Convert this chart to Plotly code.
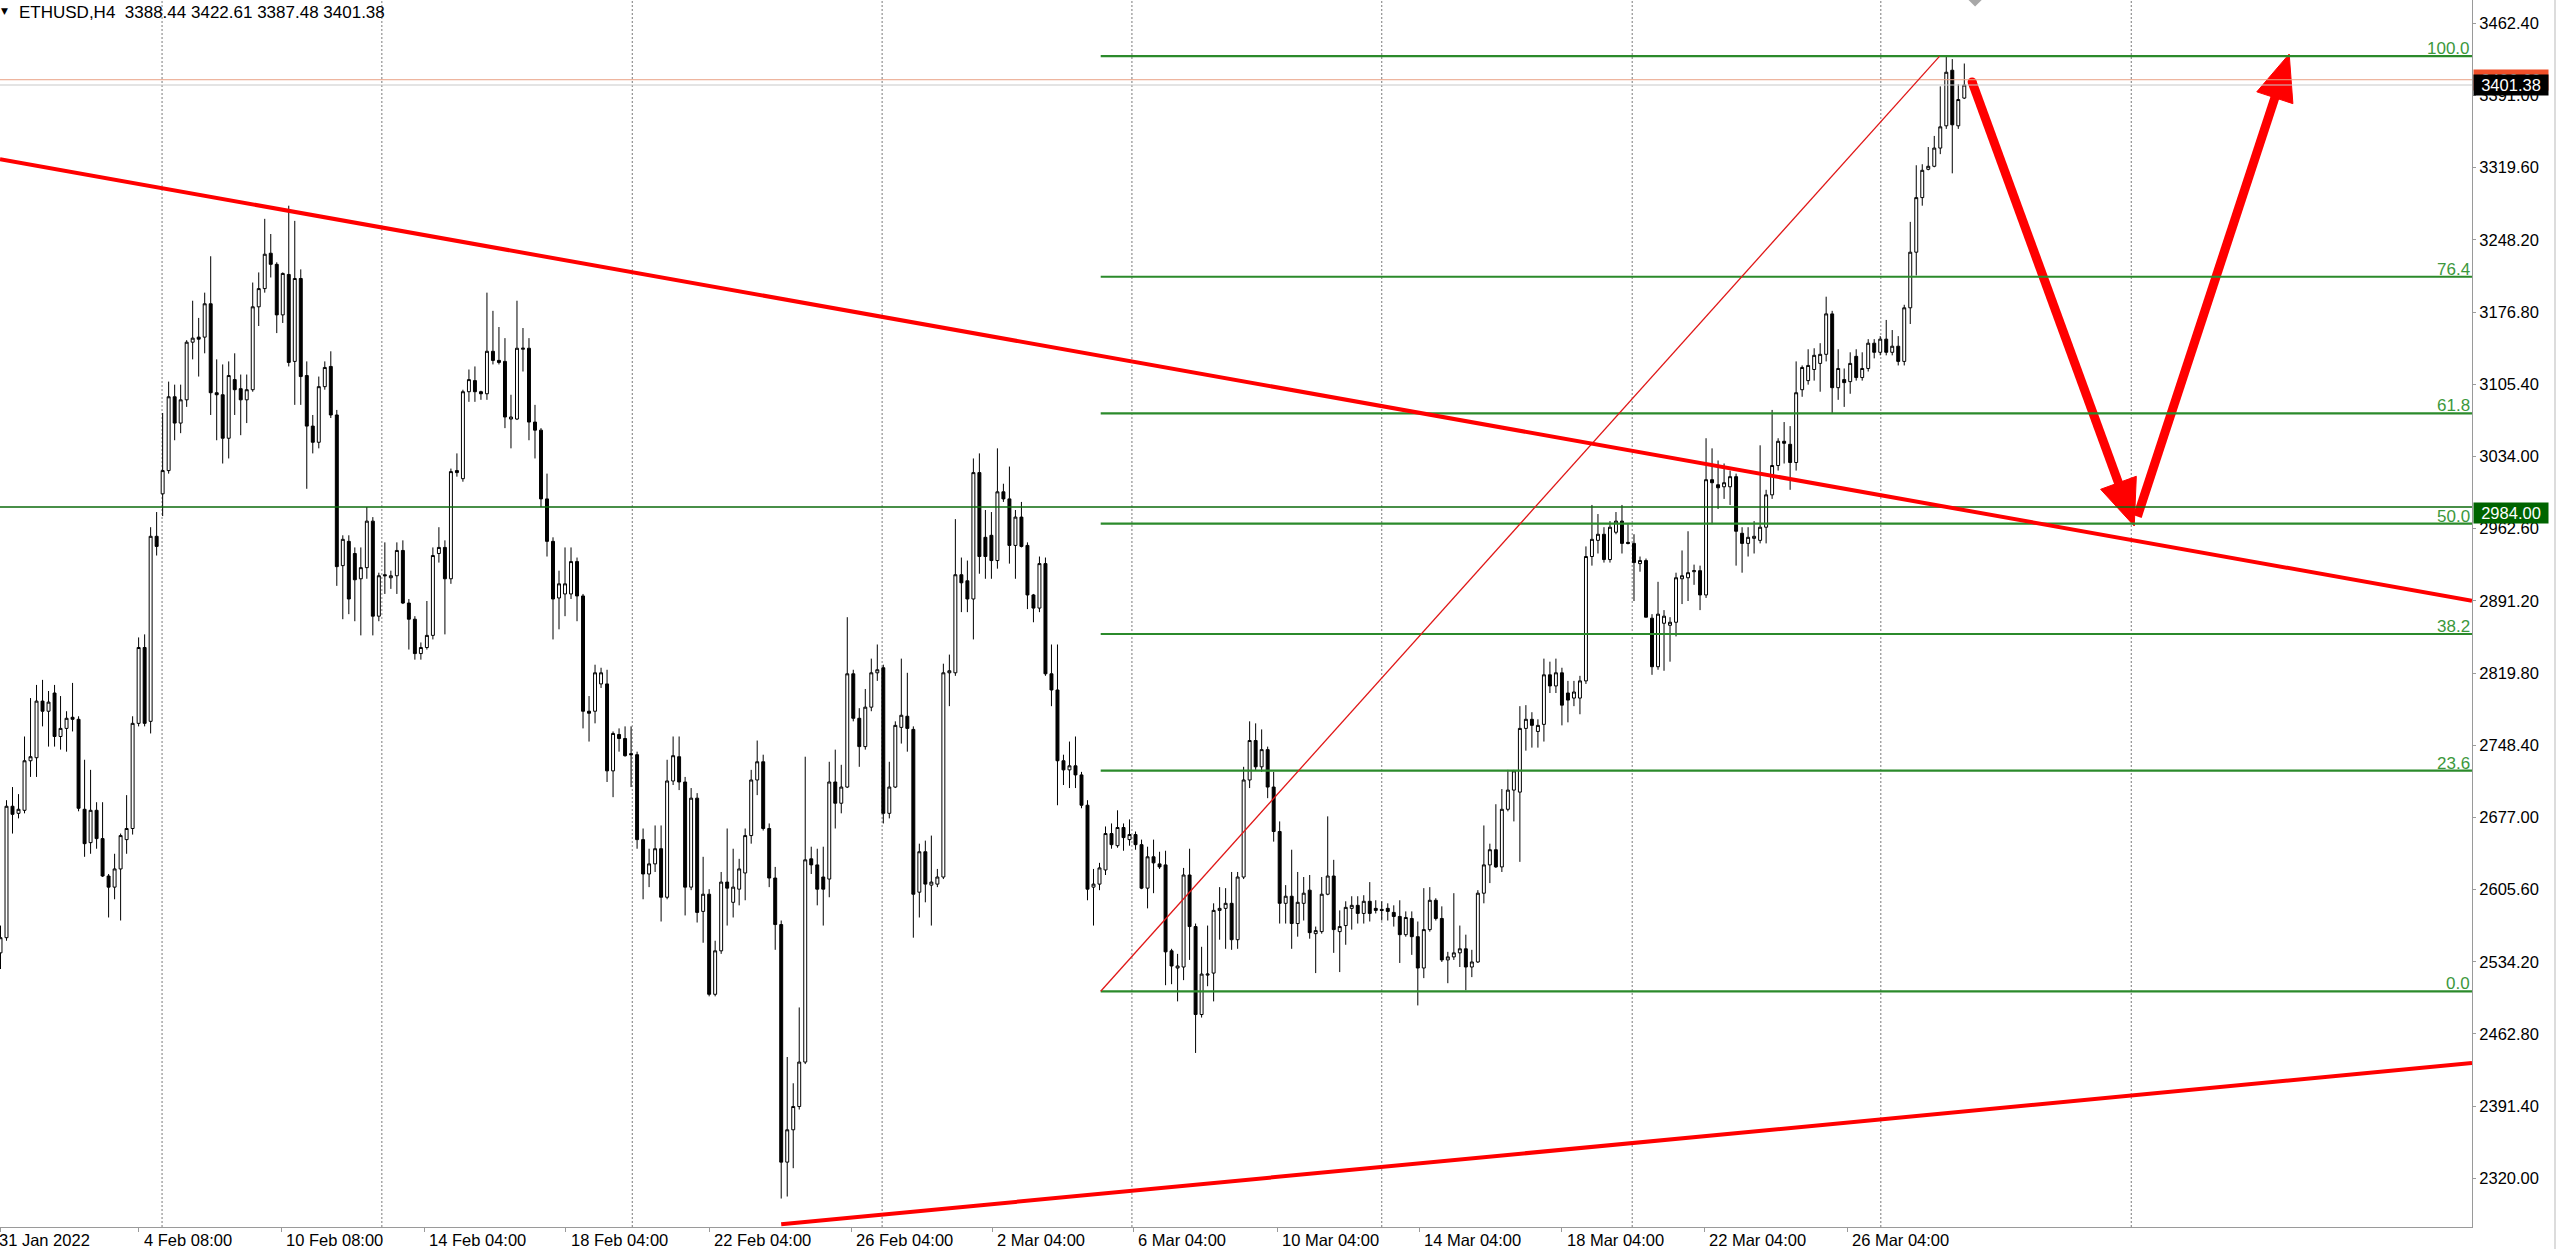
import plotly.graph_objects as go

# ---------------- data (ETHUSD H4 candles) ----------------
opens = [
    2543, 2558, 2688, 2681, 2684, 2733, 2736, 2792, 2782, 2800,
    2757, 2765, 2776, 2774, 2685, 2652, 2684, 2656, 2619, 2608,
    2626, 2655, 2666, 2770, 2845, 2772, 2955, 2997, 3020, 3093,
    3067, 3090, 3147, 3152, 3152, 3185, 3097, 3095, 3052, 3110,
    3101, 3090, 3100, 3182, 3200, 3235, 3224, 3174, 3214, 3128,
    3210, 3114, 3064, 3048, 3103, 3123, 3075, 2926, 2950, 2938,
    2913, 2924, 2970, 2876, 2917, 2914, 2916, 2941, 2889, 2873,
    2839, 2845, 2857, 2938, 2944, 2913, 3020, 3012, 3098, 3109,
    3098, 3096, 3138, 3129, 3128, 3071, 3071, 3140, 3141, 3068,
    3060, 2992, 2950, 2894, 2898, 2898, 2930, 2896, 2782, 2782,
    2809, 2809, 2723, 2759, 2755, 2740, 2739, 2655, 2621, 2631,
    2646, 2598, 2713, 2737, 2712, 2608, 2696, 2584, 2601, 2502,
    2545, 2613, 2593, 2606, 2622, 2659, 2714, 2732, 2666, 2617,
    2571, 2336, 2368, 2391, 2435, 2636, 2630, 2618, 2616, 2712,
    2691, 2707, 2819, 2775, 2747, 2786, 2820, 2825, 2681, 2707,
    2766, 2777, 2764, 2603, 2643, 2610, 2611, 2618, 2820, 2820,
    2917, 2911, 2893, 3018, 2954, 2956, 2931, 2999, 2992, 2946,
    2974, 2946, 2897, 2884, 2928, 2819, 2803, 2733, 2724, 2728,
    2719, 2689, 2608, 2611, 2625, 2661, 2649, 2667, 2655, 2660,
    2650, 2607, 2638, 2631, 2630, 2545, 2528, 2529, 2620, 2569,
    2482, 2521, 2523, 2585, 2587, 2592, 2556, 2618, 2714, 2753,
    2727, 2744, 2707, 2663, 2592, 2599, 2572, 2592, 2605, 2562,
    2564, 2601, 2619, 2564, 2570, 2587, 2590, 2582, 2594, 2587,
    2586, 2587, 2583, 2579, 2561, 2577, 2559, 2528, 2566, 2595,
    2577, 2536, 2539, 2543, 2547, 2529, 2534, 2602, 2630, 2645,
    2628, 2685, 2704, 2702, 2765, 2774, 2762, 2769, 2818, 2807,
    2820, 2800, 2795, 2795, 2812, 2935, 2951, 2957, 2932, 2959,
    2970, 2949, 2948, 2928, 2931, 2874, 2826, 2869, 2867, 2870,
    2913, 2914, 2920, 2921, 2897, 3011, 3006, 3004, 3004, 3014,
    2958, 2948, 2953, 2951, 2964, 2996, 3025, 3049, 3046, 3028,
    3100, 3109, 3120, 3126, 3135, 3175, 3102, 3110, 3108, 3133,
    3112, 3121, 3146, 3137, 3150, 3137, 3143, 3128, 3181, 3236,
    3290, 3318, 3321, 3339, 3361, 3416, 3361, 3388.44,
]
highs = [
    2570, 2694, 2707, 2700, 2757, 2795, 2808, 2813, 2802, 2808,
    2797, 2782, 2810, 2777, 2734, 2724, 2692, 2692, 2621, 2641,
    2661, 2699, 2777, 2855, 2858, 2964, 2979, 3077, 3108, 3105,
    3105, 3149, 3188, 3171, 3196, 3232, 3130, 3125, 3128, 3136,
    3115, 3115, 3206, 3216, 3269, 3254, 3226, 3216, 3282, 3267,
    3219, 3128, 3075, 3113, 3128, 3138, 3080, 2956, 2956, 2944,
    2944, 2984, 2974, 2919, 2949, 2921, 2949, 2951, 2893, 2876,
    2850, 2891, 2944, 2964, 2951, 3022, 3037, 3100, 3120, 3123,
    3099, 3196, 3178, 3162, 3151, 3095, 3188, 3161, 3151, 3085,
    3062, 3017, 2954, 2921, 2944, 2944, 2934, 2898, 2797, 2828,
    2825, 2823, 2762, 2765, 2767, 2767, 2742, 2666, 2646, 2669,
    2669, 2734, 2757, 2757, 2717, 2706, 2701, 2638, 2606, 2555,
    2623, 2666, 2646, 2636, 2666, 2724, 2753, 2739, 2671, 2628,
    2575, 2440, 2414, 2489, 2737, 2648, 2646, 2648, 2732, 2744,
    2729, 2875, 2823, 2785, 2804, 2834, 2848, 2828, 2732, 2772,
    2834, 2820, 2767, 2651, 2654, 2659, 2626, 2829, 2838, 2972,
    2934, 2931, 3032, 3037, 2981, 2979, 3042, 3007, 3024, 2981,
    2989, 2949, 2898, 2935, 2934, 2848, 2848, 2739, 2752, 2757,
    2722, 2694, 2626, 2632, 2668, 2671, 2684, 2671, 2675, 2663,
    2655, 2648, 2655, 2643, 2644, 2547, 2542, 2627, 2646, 2572,
    2549, 2570, 2592, 2608, 2607, 2623, 2623, 2727, 2772, 2770,
    2764, 2747, 2722, 2673, 2610, 2645, 2623, 2618, 2620, 2569,
    2618, 2678, 2635, 2585, 2594, 2599, 2599, 2600, 2613, 2595,
    2594, 2592, 2590, 2595, 2584, 2584, 2574, 2607, 2608, 2597,
    2589, 2544, 2602, 2570, 2561, 2546, 2605, 2669, 2651, 2690,
    2705, 2724, 2724, 2787, 2788, 2781, 2774, 2834, 2831, 2834,
    2825, 2812, 2812, 2817, 2945, 2986, 2977, 2964, 2970, 2979,
    2986, 2967, 2957, 2935, 2933, 2878, 2910, 2882, 2875, 2919,
    2941, 2960, 2927, 2926, 3052, 3042, 3030, 3027, 3020, 3017,
    2964, 2964, 2970, 3045, 3001, 3080, 3052, 3068, 3064, 3128,
    3124, 3140, 3141, 3146, 3192, 3178, 3140, 3121, 3137, 3140,
    3137, 3150, 3150, 3153, 3169, 3159, 3153, 3184, 3266, 3322,
    3323, 3340, 3351, 3400, 3430, 3427, 3402, 3422.61,
]
lows = [
    2527, 2555, 2661, 2676, 2681, 2717, 2717, 2767, 2747, 2747,
    2744, 2742, 2762, 2683, 2638, 2641, 2646, 2618, 2578, 2596,
    2575, 2641, 2660, 2767, 2767, 2760, 2936, 2975, 3017, 3050,
    3057, 3083, 3130, 3113, 3136, 3075, 3050, 3027, 3032, 3075,
    3055, 3067, 3098, 3163, 3196, 3211, 3156, 3166, 3123, 3085,
    3085, 3002, 3037, 3042, 3100, 3072, 2906, 2873, 2878, 2871,
    2857, 2913, 2857, 2871, 2898, 2903, 2898, 2888, 2843, 2833,
    2833, 2843, 2853, 2929, 2858, 2908, 3014, 3009, 3088, 3088,
    3090, 3090, 3125, 3125, 3062, 3042, 3070, 3118, 3050, 3032,
    2984, 2935, 2853, 2863, 2876, 2893, 2871, 2765, 2752, 2770,
    2805, 2712, 2697, 2742, 2737, 2707, 2646, 2596, 2608, 2623,
    2574, 2596, 2709, 2704, 2580, 2605, 2573, 2553, 2500, 2500,
    2542, 2570, 2578, 2590, 2595, 2651, 2699, 2664, 2608, 2546,
    2300, 2302, 2330, 2388, 2433, 2621, 2590, 2570, 2598, 2666,
    2681, 2706, 2772, 2727, 2744, 2782, 2812, 2671, 2676, 2706,
    2750, 2742, 2558, 2578, 2593, 2570, 2608, 2616, 2787, 2817,
    2880, 2880, 2853, 2918, 2913, 2913, 2923, 2989, 2928, 2913,
    2944, 2883, 2870, 2880, 2817, 2787, 2689, 2709, 2706, 2706,
    2686, 2595, 2570, 2605, 2620, 2646, 2647, 2644, 2649, 2645,
    2606, 2587, 2602, 2626, 2511, 2512, 2495, 2516, 2536, 2444,
    2479, 2510, 2495, 2556, 2547, 2546, 2547, 2616, 2706, 2724,
    2722, 2696, 2653, 2572, 2572, 2547, 2559, 2575, 2557, 2523,
    2562, 2600, 2543, 2524, 2551, 2566, 2572, 2572, 2574, 2582,
    2575, 2575, 2569, 2533, 2559, 2541, 2491, 2518, 2564, 2575,
    2534, 2513, 2536, 2529, 2506, 2519, 2533, 2592, 2612, 2627,
    2623, 2683, 2673, 2633, 2743, 2746, 2746, 2752, 2800, 2800,
    2768, 2771, 2787, 2779, 2809, 2926, 2938, 2929, 2929, 2957,
    2938, 2947, 2891, 2920, 2875, 2818, 2823, 2822, 2831, 2856,
    2888, 2891, 2907, 2882, 2894, 2967, 2982, 2992, 2986, 2926,
    2919, 2935, 2938, 2948, 2948, 2992, 3020, 3027, 3001, 3020,
    3093, 3105, 3109, 3098, 3128, 3077, 3090, 3083, 3096, 3109,
    3109, 3118, 3131, 3134, 3134, 3134, 3124, 3124, 3165, 3213,
    3282, 3317, 3320, 3333, 3358, 3314, 3358, 3387.48,
]
closes = [
    2558, 2688, 2680, 2685, 2733, 2737, 2792, 2782, 2791, 2757,
    2765, 2775, 2774, 2686, 2651, 2684, 2656, 2619, 2608, 2626,
    2659, 2666, 2770, 2845, 2770, 2955, 2945, 3020, 3093, 3067,
    3090, 3147, 3151, 3150, 3185, 3097, 3095, 3052, 3114, 3100,
    3090, 3100, 3182, 3200, 3234, 3224, 3174, 3215, 3127, 3210,
    3113, 3064, 3048, 3103, 3122, 3075, 2925, 2952, 2893, 2912,
    2924, 2970, 2876, 2916, 2916, 2916, 2941, 2889, 2873, 2839,
    2845, 2857, 2936, 2944, 2913, 3019, 3018, 3098, 3110, 3098,
    3096, 3138, 3129, 3127, 3073, 3073, 3141, 3141, 3068, 3060,
    2992, 2950, 2893, 2908, 2908, 2930, 2896, 2782, 2780, 2820,
    2820, 2723, 2760, 2755, 2738, 2739, 2655, 2621, 2631, 2646,
    2598, 2713, 2738, 2712, 2608, 2696, 2583, 2601, 2502, 2545,
    2613, 2607, 2608, 2626, 2659, 2714, 2732, 2666, 2617, 2571,
    2336, 2368, 2391, 2435, 2635, 2630, 2606, 2606, 2712, 2691,
    2707, 2819, 2775, 2747, 2786, 2820, 2823, 2681, 2707, 2768,
    2778, 2765, 2601, 2643, 2611, 2613, 2618, 2820, 2822, 2917,
    2909, 2893, 3018, 2935, 2935, 2931, 2999, 2992, 2946, 2974,
    2945, 2897, 2884, 2928, 2819, 2803, 2733, 2724, 2728, 2719,
    2689, 2606, 2611, 2627, 2661, 2650, 2667, 2657, 2660, 2650,
    2607, 2638, 2632, 2628, 2544, 2530, 2530, 2620, 2569, 2482,
    2522, 2522, 2585, 2587, 2592, 2556, 2618, 2714, 2753, 2727,
    2744, 2707, 2663, 2592, 2599, 2572, 2593, 2602, 2563, 2565,
    2601, 2619, 2566, 2569, 2588, 2590, 2582, 2594, 2582, 2585,
    2585, 2584, 2579, 2561, 2578, 2559, 2528, 2566, 2595, 2577,
    2536, 2539, 2543, 2547, 2529, 2534, 2602, 2630, 2645, 2628,
    2685, 2704, 2723, 2765, 2774, 2768, 2768, 2818, 2807, 2820,
    2788, 2793, 2801, 2812, 2935, 2952, 2957, 2932, 2964, 2970,
    2948, 2948, 2929, 2931, 2875, 2826, 2878, 2876, 2870, 2914,
    2916, 2919, 2921, 2897, 3011, 3008, 3003, 3008, 3014, 2960,
    2948, 2954, 2955, 2964, 2996, 3025, 3049, 3047, 3028, 3097,
    3122, 3124, 3134, 3135, 3175, 3102, 3121, 3107, 3126, 3112,
    3121, 3146, 3137, 3150, 3137, 3143, 3128, 3181, 3236, 3290,
    3317, 3321, 3339, 3360, 3414, 3362, 3387, 3401.38,
]
bars = list(range(len(opens)))

header_text = "ETHUSD,H4\u00a0\u00a03388.44 3422.61 3387.48 3401.38"
x_labels = ["31 Jan 2022", "4 Feb 08:00", "10 Feb 08:00", "14 Feb 04:00", "18 Feb 04:00",
            "22 Feb 04:00", "26 Feb 04:00", "2 Mar 04:00", "6 Mar 04:00", "10 Mar 04:00",
            "14 Mar 04:00", "18 Mar 04:00", "22 Mar 04:00", "26 Mar 04:00"]
x_label_bars = [0.0, 23.06, 46.71, 70.52, 94.16, 117.98, 141.62, 165.1, 188.58,
                212.56, 236.2, 260.01, 283.66, 307.47]
grid_bars = [26.9, 63.5, 105.2, 146.8, 188.4, 230.0, 271.7, 313.1, 354.8]
y_ticks = [3462.40, 3391.00, 3319.60, 3248.20, 3176.80, 3105.40, 3034.00, 2962.60, 2891.20,
           2819.80, 2748.40, 2677.00, 2605.60, 2534.20, 2462.80, 2391.40, 2320.00]

level_price = 2984.00
bid_price = 3401.38
ask_price = 3406.6

fib_bars = [183.2, 322.9]
fib_prices = [2505.0, 3430.0]
fib_ratios = [0.0, 23.6, 38.2, 50.0, 61.8, 76.4, 100.0]

trend_down_bars = [-0.083, 411.54]
trend_down_prices = [3327.9, 2891.2]
trend_up_bars = [130.0, 411.54]
trend_up_prices = [2274.6, 2434.1]

arrow_bars = [328.3, 355.3, 381.1]
arrow_prices = [3404.3, 2965.2, 3432.0]

marker_bar, marker_price = 328.8, 3490.5

# ---------------- geometry of the plot area ----------------
FIG_W, FIG_H = 2560, 1249
M_L, M_R, M_T, M_B = 0, 88, 0, 22
PW, PH = FIG_W - M_L - M_R, FIG_H - M_T - M_B
X0, X1 = -0.083, 411.54
Y0, Y1 = 2271.85, 3485.45


def to_px(b, p):
    return ((b - X0) / (X1 - X0) * PW, (Y1 - p) / (Y1 - Y0) * PH)


def to_data(x, y):
    return (X0 + x / PW * (X1 - X0), Y1 - y / PH * (Y1 - Y0))


def head(tail, tip, length=46.0, half=19.0):
    tx, ty = to_px(*tail)
    hx, hy = to_px(*tip)
    dx, dy = hx - tx, hy - ty
    d = (dx * dx + dy * dy) ** 0.5
    ux, uy = dx / d, dy / d
    bx, by = hx - length * ux, hy - length * uy
    nx, ny = -uy, ux
    pts = [(hx, hy), (bx + half * nx, by + half * ny), (bx - half * nx, by - half * ny), (hx, hy)]
    data_pts = [to_data(*p) for p in pts]
    base = to_data(bx + 6 * ux, by + 6 * uy)
    return data_pts, base, (ux, uy)


FONT = "Liberation Sans, Arial, sans-serif"
RED = "#ff0000"
FIB_GREEN = "#2b8a2b"
LEVEL_GREEN = "#0b6a0b"

fig = go.Figure()

fig.add_trace(go.Candlestick(
    x=bars, open=opens, high=highs, low=lows, close=closes,
    increasing=dict(line=dict(color="black", width=1), fillcolor="white"),
    decreasing=dict(line=dict(color="black", width=1), fillcolor="black"),
    whiskerwidth=0, hoverinfo="skip", showlegend=False,
))

# arrows (drawn analysis)
S = (arrow_bars[0], arrow_prices[0])
M = (arrow_bars[1], arrow_prices[1])
E = (arrow_bars[2], arrow_prices[2])
h1, base1, u1 = head(S, M)
h2, base2, u2 = head(M, E)
mx, my = to_px(*M)
seg2_start = to_data(mx + 10 * u2[0], my + 10 * u2[1])
for a, b in [(S, base1), (seg2_start, base2)]:
    fig.add_trace(go.Scatter(x=[a[0], b[0]], y=[a[1], b[1]], mode="lines",
                             line=dict(color=RED, width=9), hoverinfo="skip", showlegend=False))
for h in (h1, h2):
    fig.add_trace(go.Scatter(x=[p[0] for p in h], y=[p[1] for p in h], mode="lines",
                             fill="toself", fillcolor=RED, line=dict(color=RED, width=1),
                             hoverinfo="skip", showlegend=False))
fig.add_trace(go.Scatter(x=[S[0]], y=[S[1]], mode="markers",
                         marker=dict(color=RED, size=9, symbol="circle"),
                         hoverinfo="skip", showlegend=False))
fig.add_trace(go.Scatter(x=[marker_bar], y=[marker_price], mode="markers",
                         marker=dict(color="#a8a8a8", size=18, symbol="diamond"),
                         hoverinfo="skip", showlegend=False))

shapes = []
for gb in grid_bars:
    shapes.append(dict(type="line", xref="x", yref="paper", x0=gb, x1=gb, y0=0, y1=1,
                       line=dict(color="#7a7a7a", width=1, dash="2px,2px"), layer="below"))
# bid / ask lines
shapes.append(dict(type="line", xref="paper", yref="y", x0=0, x1=1, y0=bid_price, y1=bid_price,
                   line=dict(color="#c9c9c9", width=1)))
shapes.append(dict(type="line", xref="paper", yref="y", x0=0, x1=1, y0=ask_price, y1=ask_price,
                   line=dict(color="#e9a184", width=1)))
# horizontal level
shapes.append(dict(type="line", xref="paper", yref="y", x0=0, x1=1, y0=level_price, y1=level_price,
                   line=dict(color=LEVEL_GREEN, width=1.6)))
# fibonacci levels
lo, hi = fib_prices
fib_level_prices = [lo + (hi - lo) * r / 100.0 for r in fib_ratios]
for fp in fib_level_prices:
    shapes.append(dict(type="line", xref="x", yref="y", x0=fib_bars[0], x1=X1, y0=fp, y1=fp,
                       line=dict(color=FIB_GREEN, width=2.2)))
shapes.append(dict(type="line", xref="x", yref="y", x0=fib_bars[0], x1=fib_bars[1],
                   y0=fib_prices[0], y1=fib_prices[1], line=dict(color="#e01818", width=1.3)))
# trend lines
shapes.append(dict(type="line", xref="x", yref="y", x0=trend_down_bars[0], x1=trend_down_bars[1],
                   y0=trend_down_prices[0], y1=trend_down_prices[1], line=dict(color=RED, width=4)))
shapes.append(dict(type="line", xref="x", yref="y", x0=trend_up_bars[0], x1=trend_up_bars[1],
                   y0=trend_up_prices[0], y1=trend_up_prices[1], line=dict(color=RED, width=4)))
# window border on the far right
shapes.append(dict(type="line", xref="paper", yref="paper", x0=(FIG_W - 5) / PW, x1=(FIG_W - 5) / PW,
                   y0=-M_B / PH, y1=1, line=dict(color="#dcdcdc", width=2)))

annotations = []
annotations.append(dict(xref="paper", yref="paper", x=0, y=1, xanchor="left", yanchor="middle",
                        xshift=-1, yshift=-11, text="\u25bc", showarrow=False,
                        font=dict(family="DejaVu Sans", size=9, color="black")))
annotations.append(dict(xref="paper", yref="paper", x=0, y=1, xanchor="left", yanchor="middle",
                        xshift=17, yshift=-12, text=header_text, showarrow=False,
                        font=dict(family=FONT, size=17, color="black")))
for i, (lab, xb) in enumerate(zip(x_labels, x_label_bars)):
    if i == 0:
        annotations.append(dict(xref="paper", yref="paper", x=0, y=0, xanchor="left", yanchor="middle",
                                xshift=-3, yshift=-13, text=lab, showarrow=False,
                                font=dict(family=FONT, size=16.5, color="black")))
    else:
        annotations.append(dict(xref="x", yref="paper", x=xb, y=0, xanchor="left", yanchor="middle",
                                xshift=3, yshift=-13, text=lab, showarrow=False,
                                font=dict(family=FONT, size=16.5, color="black")))
for r, fp in zip(fib_ratios, fib_level_prices):
    annotations.append(dict(xref="paper", yref="y", x=1, y=fp, xanchor="right", yanchor="bottom",
                            xshift=0, yshift=-4, text="%.1f" % r, showarrow=False,
                            font=dict(family=FONT, size=17, color="#3c983c")))
annotations.append(dict(xref="paper", yref="y", x=1, y=level_price, xanchor="left", yanchor="middle",
                        xshift=1, yshift=-6, text="%.2f" % level_price, showarrow=False,
                        bgcolor="#006400", width=72, height=18, borderpad=1,
                        font=dict(family=FONT, size=16.5, color="white")))
annotations.append(dict(xref="paper", yref="y", x=1, y=ask_price, xanchor="left", yanchor="middle",
                        xshift=1, yshift=0, text="%.2f" % ask_price, showarrow=False,
                        bgcolor="#f0502a", width=72, height=18, borderpad=1,
                        font=dict(family=FONT, size=16.5, color="white")))
annotations.append(dict(xref="paper", yref="y", x=1, y=bid_price, xanchor="left", yanchor="middle",
                        xshift=1, yshift=0, text="%.2f" % bid_price, showarrow=False,
                        bgcolor="black", width=72, height=18, borderpad=1,
                        font=dict(family=FONT, size=16.5, color="white")))

fig.update_layout(
    width=FIG_W, height=FIG_H,
    margin=dict(l=M_L, r=M_R, t=M_T, b=M_B, pad=0),
    paper_bgcolor="white", plot_bgcolor="white",
    showlegend=False, hovermode=False,
    font=dict(family=FONT, size=16.5, color="black"),
    xaxis=dict(range=[X0, X1], showgrid=False, zeroline=False,
               rangeslider=dict(visible=False), showline=True, linecolor="#9a9a9a", linewidth=1,
               ticks="outside", ticklen=4, tickcolor="#9a9a9a", tickvals=x_label_bars,
               showticklabels=False, fixedrange=True),
    yaxis=dict(range=[Y0, Y1], side="right", showgrid=False, zeroline=False,
               showline=True, linecolor="#9a9a9a", linewidth=1,
               ticks="outside", ticklen=3, tickcolor="#9a9a9a",
               tickvals=y_ticks, ticktext=["%.2f" % v for v in y_ticks],
               tickfont=dict(family=FONT, size=16.5, color="black"), fixedrange=True),
    shapes=shapes, annotations=annotations,
)

fig.write_html("out.html", config={"displayModeBar": False},
               post_script="document.body.style.margin='0';document.body.style.overflow='hidden';")
